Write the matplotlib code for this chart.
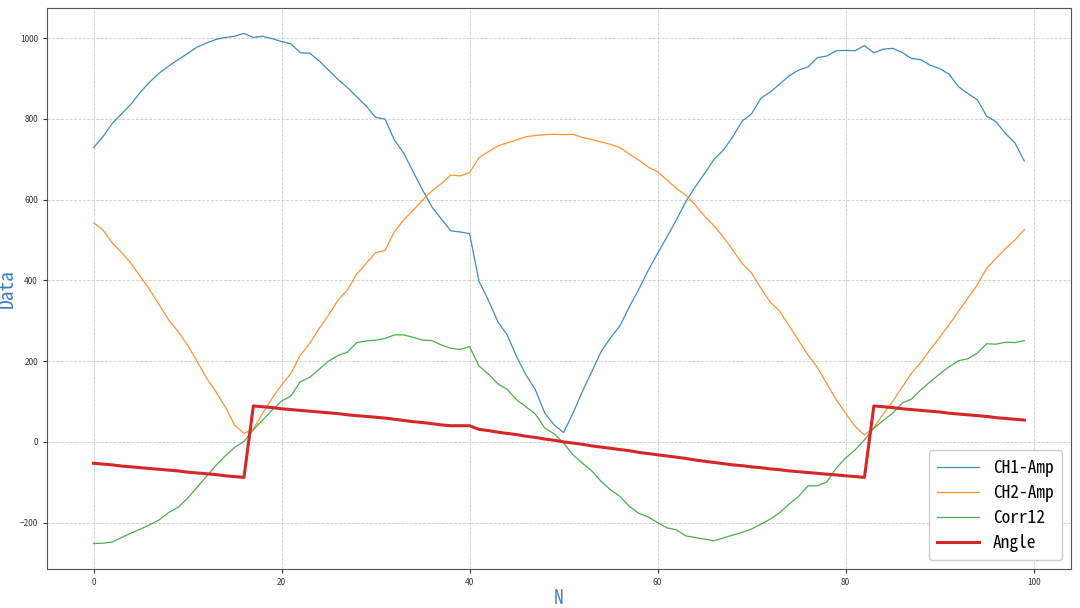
import numpy as np
import matplotlib.pyplot as plt

plt.rcParams['font.family'] = ['Noto Sans Mono CJK SC', 'Noto Sans CJK SC', 'DejaVu Sans']

###  data  ###

n = np.arange(100)

ch1_amp = [729, 756, 789, 813, 837, 867, 892, 914, 931, 947,
           962, 978, 988, 997, 1002, 1005, 1012, 1002, 1005, 999,
           992, 986, 964, 963, 944, 921, 898, 878, 855, 832,
           804, 800, 748, 715, 669, 624, 582, 552, 523, 520,
           516, 398, 351, 298, 265, 211, 166, 129, 71, 42,
           23, 71, 125, 174, 224, 258, 288, 335, 378, 425,
           467, 508, 550, 595, 632, 665, 700, 723, 756, 795,
           813, 852, 867, 887, 907, 921, 929, 952, 956, 969,
           970, 969, 982, 964, 973, 975, 965, 950, 947, 933,
           925, 911, 880, 863, 848, 807, 793, 764, 741, 696]

ch2_amp = [543, 525, 493, 469, 442, 409, 376, 339, 302, 273,
           240, 200, 159, 125, 87, 42, 21, 32, 71, 108,
           141, 170, 215, 244, 281, 314, 351, 376, 416, 442,
           469, 474, 521, 550, 574, 599, 622, 640, 661, 659,
           667, 704, 719, 733, 741, 748, 756, 759, 761, 762,
           761, 762, 754, 749, 743, 737, 729, 713, 698, 681,
           669, 649, 628, 611, 587, 559, 535, 507, 475, 442,
           418, 380, 346, 323, 287, 251, 215, 184, 144, 104,
           71, 38, 17, 35, 69, 100, 135, 170, 197, 229,
           259, 290, 323, 356, 389, 430, 455, 479, 500, 526]

corr12 = [-252, -251, -248, -237, -226, -216, -205, -193, -175, -162,
          -140, -113, -86, -59, -35, -14, 1, 30, 54, 79,
          101, 114, 149, 160, 180, 200, 214, 222, 246, 250,
          252, 256, 265, 265, 259, 252, 251, 240, 232, 229,
          236, 188, 168, 144, 130, 104, 87, 69, 34, 20,
          -3, -32, -53, -72, -98, -119, -135, -160, -177, -186,
          -200, -213, -218, -233, -237, -241, -245, -238, -231, -224,
          -216, -204, -191, -175, -154, -135, -109, -109, -99, -65,
          -40, -20, 5, 34, 53, 71, 96, 106, 129, 149,
          168, 186, 201, 206, 220, 243, 242, 247, 246, 251]

angle = [-53, -55, -57, -60, -62, -64, -66, -68, -70, -72,
         -75, -77, -79, -81, -84, -86, -88, 89, 87, 85,
         82, 80, 78, 76, 74, 72, 70, 67, 65, 63,
         61, 59, 56, 53, 50, 48, 45, 42, 40, 40,
         40, 31, 28, 24, 21, 18, 14, 11, 7, 4,
         0, -3, -6, -10, -13, -16, -19, -22, -26, -29,
         -32, -35, -38, -41, -45, -48, -51, -54, -57, -59,
         -62, -64, -67, -69, -72, -74, -76, -78, -80, -82,
         -84, -86, -88, 89, 87, 85, 82, 80, 78, 76,
         74, 71, 69, 67, 65, 63, 60, 58, 56, 54]

###  plot  ###

fig = plt.figure(figsize=(10.8, 6.08), dpi=100)
ax = fig.add_axes([0.0435, 0.064, 0.948, 0.923])

ax.plot(n, ch1_amp, color='tab:blue', lw=0.9, alpha=0.85, label='CH1-Amp')
ax.plot(n, ch2_amp, color='tab:orange', lw=0.9, alpha=0.85, label='CH2-Amp')
ax.plot(n, corr12, color='tab:green', lw=0.9, alpha=0.85, label='Corr12')
ax.plot(n, angle, color='tab:red', lw=2.2, label='Angle')

ax.grid(True, linestyle='--', color='#cccccc', lw=0.6)
ax.tick_params(labelsize=6, length=3, colors='#333333')
for lab in ax.get_xticklabels() + ax.get_yticklabels():
    lab.set_family(['Noto Sans CJK SC', 'DejaVu Sans'])
for s in ax.spines.values():
    s.set_color('#555555')

ax.set_xlabel('N', fontsize=14, color='#3d7fbf', labelpad=1)
ax.set_ylabel('Data', fontsize=14, color='#3d7fbf', labelpad=2)

ax.legend(loc='lower right', fontsize=12.5, handlelength=2.4, framealpha=1,
          borderpad=0.5, labelspacing=0.4)

plt.savefig('out.png', dpi=100)
